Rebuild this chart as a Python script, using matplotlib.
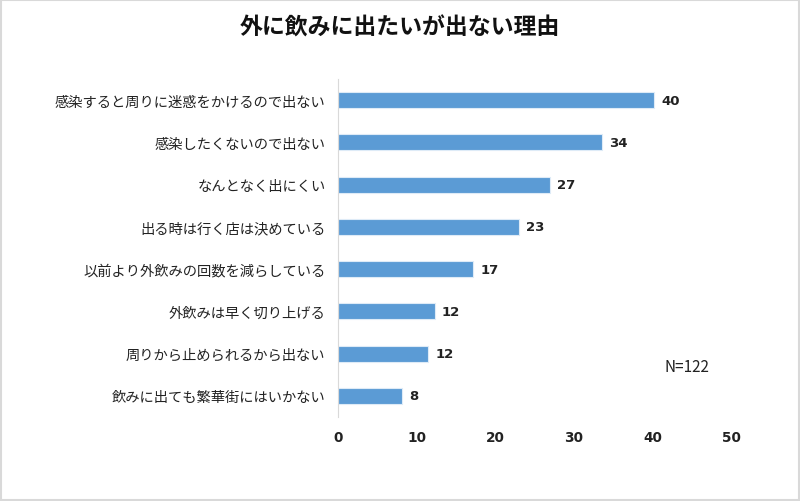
import matplotlib.pyplot as plt
from matplotlib.patches import Rectangle

plt.rcParams['font.family'] = ['Noto Sans CJK JP', 'DejaVu Sans']

# reasons, top to bottom
reasons = [
    "感染すると周りに迷惑をかけるので出ない",
    "感染したくないので出ない",
    "なんとなく出にくい",
    "出る時は行く店は決めている",
    "以前より外飲みの回数を減らしている",
    "外飲みは早く切り上げる",
    "周りから止められるから出ない",
    "飲みに出ても繁華街にはいかない",
]
# percent of respondents (N=122)
values = [40.2, 33.6, 27.0, 23.0, 17.2, 12.3, 11.5, 8.2]
value_labels = ["40", "34", "27", "23", "17", "12", "12", "8"]
xticks = [0, 10, 20, 30, 40, 50]

fig = plt.figure(figsize=(8, 5.02), dpi=100)
ax = fig.add_axes([0.4225, 0.1673, 0.4913, 0.6733])

y = list(range(len(reasons)))
ax.barh(y, values, height=0.38, color='#5b9bd5', edgecolor='#deebf7', linewidth=0.8)
for yi, v, lab in zip(y, values, value_labels):
    ax.text(v + 0.9, yi, lab, va='center', ha='left', fontsize=9.5,
            fontweight='bold', color='#222222', family=['DejaVu Sans'])

ax.set_ylim(len(reasons) - 0.5, -0.5)
ax.set_xlim(0, 50)
ax.set_yticks(y)
ax.set_yticklabels(reasons, fontsize=10.3, color='#222222')
ax.set_xticks(xticks)
ax.set_xticklabels([str(t) for t in xticks], fontsize=9.8, fontweight='bold',
                   color='#222222', family=['DejaVu Sans'])
ax.tick_params(axis='both', length=0)
ax.tick_params(axis='y', pad=9)
ax.tick_params(axis='x', pad=9)
for s in ['top', 'right', 'bottom']:
    ax.spines[s].set_visible(False)
ax.spines['left'].set_color('#d9d9d9')

fig.text(0.5, 0.944, "外に飲みに出たいが出ない理由", ha='center', va='center',
         fontsize=16.5, fontweight='bold', color='#111111')
fig.text(0.859, 0.267, "N=122", ha='center', va='center', fontsize=11, color='#222222')

fig.patches.append(Rectangle((0.001, 0.002), 0.998, 0.996, transform=fig.transFigure,
                             fill=False, edgecolor='#d9d9d9', linewidth=1.5))

fig.savefig("out.png", dpi=100)
